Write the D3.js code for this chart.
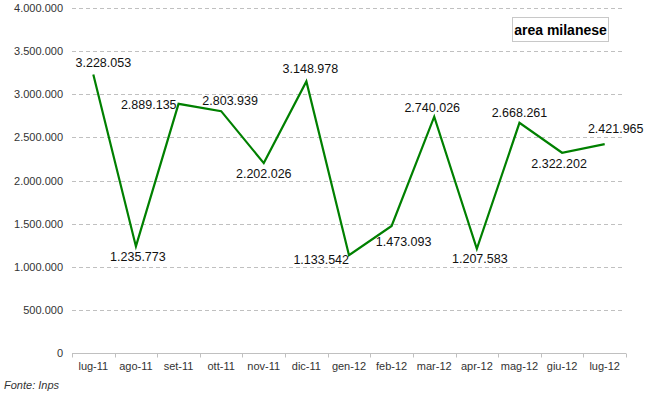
<!DOCTYPE html>
<html><head><meta charset="utf-8">
<script src="https://cdn.jsdelivr.net/npm/d3@7"></script>
<style>
body{margin:0;background:#fff;}
svg{display:block;font-family:"Liberation Sans",Arial,sans-serif;}
</style></head>
<body>
<svg id="c" width="648" height="399"></svg>
<script>
const months = ["lug-11","ago-11","set-11","ott-11","nov-11","dic-11","gen-12","feb-12","mar-12","apr-12","mag-12","giu-12","lug-12"];
const values = [3228053,1235773,2889135,2803939,2202026,3148978,1133542,1473093,2740026,1207583,2668261,2322202,2421965];
const yTicks = [0,500000,1000000,1500000,2000000,2500000,3000000,3500000,4000000];
const seriesName = "area milanese";
const source = "Fonte: Inps";
// label placement per point: [dx, dy, anchor]
const labelPlace = [[10,-8,"middle"],[2,15,"middle"],[-2,5,"end"],[9,-6,"middle"],[0,15,"middle"],[4,-8,"middle"],[0,9,"end"],[12,20,"middle"],[-2,-5,"middle"],[3,14,"middle"],[0,-6,"middle"],[-3,15,"middle"],[11,-11,"middle"]];

const fmt = v => d3.format(",")(v).replace(/,/g,".");
const svg = d3.select("#c");
const x = d3.scaleBand().domain(months).range([72,626]);
const y = d3.scaleLinear().domain([0,4000000]).range([353,8]);

// gridlines
svg.append("g").selectAll("line").data(yTicks.filter(t=>t>0)).join("line")
  .attr("x1",72).attr("x2",624).attr("y1",d=>Math.round(y(d))+0.5).attr("y2",d=>Math.round(y(d))+0.5)
  .attr("stroke","#c0c0c0").attr("stroke-dasharray","4,3").attr("stroke-width",1);

// y axis labels
const ya = svg.append("g").attr("transform","translate(72,0)")
  .call(d3.axisLeft(y).tickValues(yTicks).tickFormat(fmt).tickSize(0).tickPadding(9));
ya.select(".domain").remove();
ya.selectAll("text").attr("font-size",11).attr("fill","#333").attr("font-family","Liberation Sans, Arial, sans-serif");

// x axis
const xa = svg.append("g").attr("transform",`translate(0,${Math.round(y(0))+0.5})`)
  .call(d3.axisBottom(x).tickSizeInner(0).tickSizeOuter(0).tickPadding(9));
xa.select(".domain").attr("stroke","#c0c0c0").attr("d","M72,0H626");
xa.selectAll("text").attr("font-size",11).attr("fill","#333").attr("font-family","Liberation Sans, Arial, sans-serif");
const edges = months.map(m=>x(m)).concat([x.range()[1]]);
xa.append("g").selectAll("line").data(edges).join("line")
  .attr("x1",d=>Math.round(d)+0.5).attr("x2",d=>Math.round(d)+0.5).attr("y1",0).attr("y2",4)
  .attr("stroke","#c0c0c0");

// line
const cx = (d,i)=>x(months[i])+x.bandwidth()/2;
svg.append("path").datum(values)
  .attr("d", d3.line().x((d,i)=>cx(d,i)).y(d=>y(d)))
  .attr("fill","none").attr("stroke","#008000").attr("stroke-width",2.2).attr("stroke-linejoin","miter");

// value labels
svg.append("g").selectAll("text").data(values).join("text")
  .attr("x",(d,i)=>cx(d,i)+labelPlace[i][0])
  .attr("y",(d,i)=>y(d)+labelPlace[i][1])
  .attr("text-anchor",(d,i)=>labelPlace[i][2])
  .attr("font-size",12.5).attr("fill","#111")
  .text(fmt);

// legend box
const lg = svg.append("g");
lg.append("rect").attr("x",512.5).attr("y",17.5).attr("width",96).attr("height",24)
  .attr("fill","#fff").attr("stroke","#c8c8c8");
lg.append("text").attr("x",560.5).attr("y",34.5).attr("text-anchor","middle")
  .attr("font-size",14).attr("font-weight","bold").attr("fill","#000").text(seriesName);

// source
svg.append("text").attr("x",4).attr("y",389).attr("font-size",11).attr("font-style","italic")
  .attr("fill","#333").text(source);
</script>
</body></html>
